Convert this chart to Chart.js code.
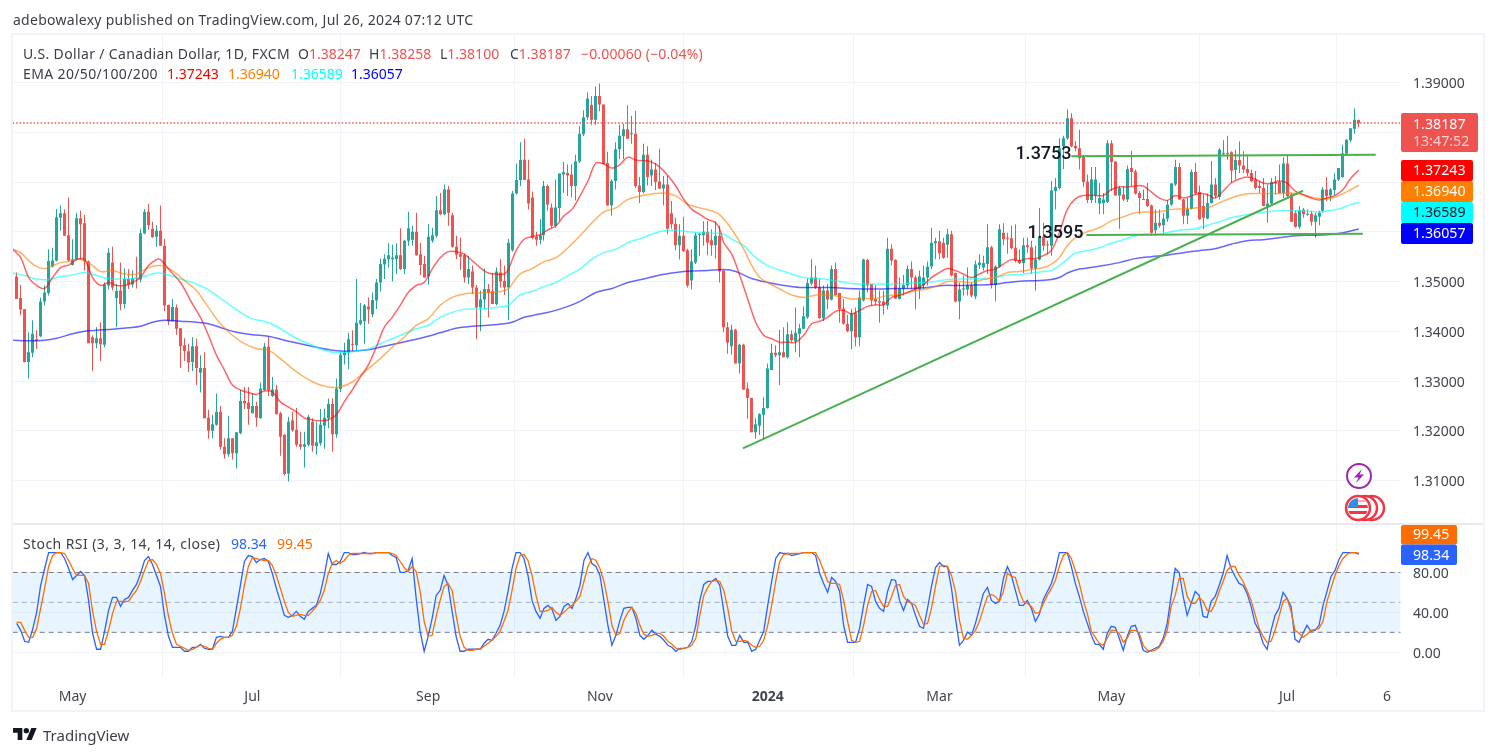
<!DOCTYPE html>
<html>
<head>
<meta charset="utf-8">
<title>USD/CAD daily</title>
<script src="https://cdn.jsdelivr.net/npm/chart.js@4"></script>
<style>
  html,body{margin:0;padding:0;background:#fff;width:1496px;height:756px;overflow:hidden;font-family:"Noto Sans",sans-serif;}
  canvas{position:absolute;left:0;top:0;}
  .frame{position:absolute;left:11px;top:33px;width:1470px;height:675px;border:2px solid #f0f3fa;}
  .t{position:absolute;white-space:nowrap;font-size:14px;line-height:18px;color:#3b3e47;}
  .wide{letter-spacing:.36px;}
  .logo{position:absolute;left:13px;top:726px;}
  .brand{position:absolute;left:43px;top:725px;font-size:15px;line-height:20px;color:#3b3e47;white-space:nowrap;}
</style>
</head>
<body>
<div class="frame"></div>
<canvas id="c" width="1496" height="756"></canvas>
<div class="t" style="left:13px;top:11px;letter-spacing:.27px">adebowalexy published on TradingView.com, Jul 26, 2024 07:12 UTC</div>
<div class="t wide" style="left:23px;top:45px">U.S. Dollar / Canadian Dollar, 1D, FXCM</div>
<div class="t" style="left:298px;top:45px">O<span style="color:#ef5350">1.38247</span></div>
<div class="t" style="left:369px;top:45px">H<span style="color:#ef5350">1.38258</span></div>
<div class="t" style="left:440px;top:45px">L<span style="color:#ef5350">1.38100</span></div>
<div class="t" style="left:510px;top:45px">C<span style="color:#ef5350">1.38187</span></div>
<div class="t" style="left:581px;top:45px;color:#ef5350;letter-spacing:.15px">−0.00060 (−0.04%)</div>
<div class="t wide" style="left:23px;top:65px">EMA 20/50/100/200</div>
<div class="t" style="left:167px;top:65px;color:#ff0000">1.37243</div>
<div class="t" style="left:228px;top:65px;color:#ff7f00">1.36940</div>
<div class="t" style="left:291px;top:65px;color:#00ffff">1.36589</div>
<div class="t" style="left:351px;top:65px;color:#0000ff">1.36057</div>
<div class="t" style="left:23px;top:535px;letter-spacing:.42px">Stoch RSI (3, 3, 14, 14, close)</div>
<div class="t" style="left:231px;top:535px;color:#2962ff">98.34</div>
<div class="t" style="left:277px;top:535px;color:#ff6d00">99.45</div>
<svg class="logo" width="24" height="16" viewBox="0 3 36 20"><path fill="#131722" d="M14 22H7V11H0V4h14v18zM28 22h-8l7.5-18h8L28 22z"/><circle fill="#131722" cx="20" cy="8" r="4"/></svg>
<div class="brand">TradingView</div>
<script>
// Daily USD/CAD candles, oldest first
const opens=[
1.3510,1.3467,1.3445,1.3338,1.3357,1.3384,1.3390,1.3460,1.3477,1.3530,
1.3542,1.3628,1.3637,1.3593,1.3533,1.3545,1.3627,1.3617,1.3540,1.3388,
1.3376,1.3386,1.3373,1.3492,1.3538,1.3467,1.3482,1.3455,1.3505,1.3494,
1.3506,1.3504,1.3597,1.3640,1.3606,1.3590,1.3602,1.3572,1.3453,1.3420,
1.3448,1.3406,1.3372,1.3360,1.3338,1.3370,1.3317,1.3326,1.3226,1.3200,
1.3212,1.3238,1.3168,1.3153,1.3185,1.3155,1.3195,1.3260,1.3257,1.3235,
1.3250,1.3225,1.3282,1.3369,1.3270,1.3283,1.3235,1.3192,1.3114,1.3221,
1.3202,1.3173,1.3168,1.3172,1.3218,1.3169,1.3175,1.3210,1.3225,1.3254,
1.3193,1.3284,1.3352,1.3357,1.3373,1.3372,1.3415,1.3420,1.3450,1.3434,
1.3462,1.3498,1.3534,1.3545,1.3545,1.3545,1.3553,1.3525,1.3582,1.3584,
1.3600,1.3555,1.3535,1.3510,1.3582,1.3592,1.3643,1.3635,1.3685,1.3633,
1.3570,1.3555,1.3553,1.3508,1.3520,1.3488,1.3448,1.3464,1.3485,1.3481,
1.3455,1.3518,1.3501,1.3488,1.3563,1.3677,1.3704,1.3745,1.3705,1.3669,
1.3590,1.3584,1.3593,1.3692,1.3649,1.3612,1.3648,1.3715,1.3718,1.3715,
1.3692,1.3741,1.3796,1.3830,1.3855,1.3825,1.3873,1.3856,1.3738,1.3653,
1.3702,1.3766,1.3792,1.3806,1.3796,1.3797,1.3693,1.3680,1.3755,1.3713,
1.3725,1.3701,1.3687,1.3695,1.3637,1.3616,1.3573,1.3592,1.3563,1.3502,
1.3538,1.3594,1.3593,1.3600,1.3583,1.3573,1.3592,1.3522,1.3408,1.3370,
1.3403,1.3335,1.3373,1.3285,1.3266,1.3197,1.3210,1.3232,1.3246,1.3322,
1.3357,1.3352,1.3358,1.3348,1.3394,1.3380,1.3395,1.3405,1.3428,1.3496,
1.3508,1.3488,1.3426,1.3482,1.3464,1.3525,1.3477,1.3446,1.3415,1.3400,
1.3436,1.3388,1.3462,1.3543,1.3495,1.3465,1.3461,1.3460,1.3452,1.3566,
1.3543,1.3465,1.3485,1.3492,1.3525,1.3508,1.3484,1.3492,1.3508,1.3530,
1.3577,1.3581,1.3578,1.3574,1.3595,1.3517,1.3460,1.3484,1.3484,1.3492,
1.3470,1.3533,1.3528,1.3535,1.3569,1.3493,1.3530,1.3598,1.3588,1.3587,
1.3568,1.3543,1.3537,1.3573,1.3569,1.3526,1.3544,1.3590,1.3575,1.3572,
1.3682,1.3688,1.3772,1.3788,1.3828,1.3773,1.3768,1.3752,1.3701,1.3664,
1.3673,1.3657,1.3658,1.3660,1.3778,1.3741,1.3673,1.3675,1.3665,1.3728,
1.3721,1.3678,1.3664,1.3666,1.3653,1.3603,1.3618,1.3613,1.3626,1.3655,
1.3695,1.3730,1.3665,1.3632,1.3646,1.3720,1.3680,1.3652,1.3626,1.3658,
1.3695,1.3670,1.3757,1.3759,1.3760,1.3724,1.3744,1.3733,1.3726,1.3718,
1.3705,1.3692,1.3688,1.3650,1.3657,1.3700,1.3700,1.3678,1.3737,1.3675,
1.3637,1.3610,1.3645,1.3634,1.3636,1.3620,1.3630,1.3642,1.3685,1.3673,
1.3684,1.3705,1.3710,1.3757,1.3784,1.3807,1.38247];
const highs=[
1.3518,1.3493,1.3445,1.3398,1.3422,1.3402,1.3468,1.3492,1.3565,1.3568,
1.3646,1.3653,1.3645,1.3669,1.3585,1.3638,1.3642,1.3634,1.3542,1.3392,
1.3408,1.3418,1.3498,1.3567,1.3570,1.3495,1.3538,1.3526,1.3525,1.3522,
1.3550,1.3606,1.3646,1.3656,1.3620,1.3613,1.3653,1.3586,1.3454,1.3465,
1.3454,1.3406,1.3386,1.3375,1.3388,1.3385,1.3352,1.3358,1.3242,1.3232,
1.3275,1.3250,1.3185,1.3230,1.3185,1.3197,1.3282,1.3288,1.3288,1.3275,
1.3258,1.3297,1.3377,1.3390,1.3308,1.3292,1.3238,1.3193,1.3228,1.3238,
1.3246,1.3198,1.3198,1.3232,1.3225,1.3218,1.3244,1.3245,1.3265,1.3266,
1.3305,1.3358,1.3377,1.3397,1.3402,1.3505,1.3457,1.3455,1.3468,1.3478,
1.3505,1.3546,1.3555,1.3577,1.3574,1.3577,1.3607,1.3584,1.3640,1.3612,
1.3638,1.3578,1.3552,1.3615,1.3608,1.3672,1.3678,1.3695,1.3692,1.3638,
1.3592,1.3588,1.3557,1.3552,1.3532,1.3493,1.3482,1.3526,1.3495,1.3517,
1.3528,1.3545,1.3532,1.3586,1.3682,1.3737,1.3780,1.3787,1.3745,1.3681,
1.3600,1.3625,1.3702,1.3695,1.3657,1.3705,1.3717,1.3740,1.3735,1.3736,
1.3755,1.3812,1.3844,1.3880,1.3873,1.3892,1.3898,1.3856,1.3761,1.3705,
1.3780,1.3815,1.3817,1.3855,1.3833,1.3843,1.3710,1.3777,1.3772,1.3745,
1.3738,1.3767,1.3712,1.3713,1.3662,1.3628,1.3615,1.3630,1.3566,1.3565,
1.3598,1.3598,1.3621,1.3622,1.3605,1.3621,1.3612,1.3522,1.3418,1.3413,
1.3405,1.3375,1.3375,1.3297,1.3266,1.3225,1.3235,1.3268,1.3335,1.3375,
1.3372,1.3403,1.3408,1.3418,1.3402,1.3448,1.3415,1.3450,1.3506,1.3545,
1.3532,1.3505,1.3492,1.3495,1.3532,1.3538,1.3477,1.3465,1.3433,1.3445,
1.3448,1.3482,1.3546,1.3546,1.3495,1.3493,1.3482,1.3482,1.3588,1.3575,
1.3545,1.3508,1.3513,1.3532,1.3540,1.3512,1.3522,1.3532,1.3540,1.3608,
1.3588,1.3602,1.3588,1.3606,1.3602,1.3518,1.3498,1.3512,1.3528,1.3498,
1.3542,1.3555,1.3552,1.3615,1.3572,1.3532,1.3615,1.3617,1.3598,1.3612,
1.3615,1.3565,1.3588,1.3588,1.3582,1.3572,1.3648,1.3618,1.3582,1.3702,
1.3708,1.3788,1.3793,1.3846,1.3838,1.3782,1.3805,1.3753,1.3715,1.3730,
1.3730,1.3698,1.3678,1.3784,1.3784,1.3741,1.3692,1.3692,1.3733,1.3763,
1.3725,1.3682,1.3685,1.3698,1.3655,1.3645,1.3645,1.3638,1.3664,1.3698,
1.3745,1.3738,1.3666,1.3668,1.3725,1.3738,1.3693,1.3675,1.3677,1.3742,
1.3708,1.3768,1.3784,1.3793,1.3762,1.3765,1.3782,1.3762,1.3755,1.3725,
1.3722,1.3702,1.3708,1.3695,1.3708,1.3712,1.3735,1.3750,1.3755,1.3678,
1.3642,1.3652,1.3648,1.3645,1.3642,1.3638,1.3642,1.3690,1.3710,1.3688,
1.3718,1.3728,1.3775,1.3786,1.3808,1.3848,1.38258];
const lows=[
1.3465,1.3432,1.3337,1.3305,1.3348,1.3365,1.3388,1.3452,1.3472,1.3528,
1.3540,1.3602,1.3592,1.3540,1.3532,1.3542,1.3545,1.3522,1.3376,1.3320,
1.3366,1.3340,1.3368,1.3484,1.3482,1.3408,1.3442,1.3446,1.3485,1.3488,
1.3486,1.3498,1.3595,1.3604,1.3588,1.3570,1.3572,1.3440,1.3412,1.3420,
1.3393,1.3326,1.3340,1.3318,1.3320,1.3292,1.3277,1.3225,1.3184,1.3185,
1.3210,1.3162,1.3144,1.3148,1.3142,1.3124,1.3193,1.3244,1.3212,1.3235,
1.3208,1.3224,1.3280,1.3270,1.3268,1.3233,1.3150,1.3110,1.3098,1.3198,
1.3168,1.3162,1.3126,1.3169,1.3158,1.3152,1.3170,1.3164,1.3205,1.3158,
1.3186,1.3278,1.3333,1.3324,1.3358,1.3362,1.3412,1.3375,1.3415,1.3428,
1.3445,1.3480,1.3505,1.3528,1.3500,1.3515,1.3523,1.3515,1.3572,1.3572,
1.3552,1.3513,1.3508,1.3494,1.3578,1.3588,1.3633,1.3633,1.3612,1.3568,
1.3545,1.3523,1.3498,1.3495,1.3475,1.3384,1.3400,1.3445,1.3428,1.3455,
1.3452,1.3488,1.3473,1.3422,1.3560,1.3675,1.3692,1.3704,1.3645,1.3585,
1.3572,1.3575,1.3582,1.3642,1.3608,1.3608,1.3622,1.3678,1.3672,1.3669,
1.3663,1.3738,1.3792,1.3825,1.3815,1.3815,1.3842,1.3735,1.3653,1.3632,
1.3685,1.3746,1.3746,1.3787,1.3777,1.3688,1.3658,1.3677,1.3693,1.3692,
1.3684,1.3686,1.3653,1.3595,1.3606,1.3563,1.3544,1.3560,1.3488,1.3484,
1.3535,1.3552,1.3572,1.3553,1.3552,1.3546,1.3498,1.3398,1.3355,1.3353,
1.3335,1.3315,1.3282,1.3224,1.3197,1.3184,1.3192,1.3184,1.3245,1.3322,
1.3348,1.3292,1.3348,1.3345,1.3378,1.3358,1.3348,1.3404,1.3425,1.3492,
1.3485,1.3425,1.3420,1.3445,1.3462,1.3472,1.3417,1.3413,1.3398,1.3364,
1.3370,1.3370,1.3460,1.3478,1.3452,1.3453,1.3417,1.3433,1.3444,1.3532,
1.3465,1.3464,1.3472,1.3485,1.3485,1.3444,1.3465,1.3485,1.3492,1.3525,
1.3545,1.3545,1.3546,1.3548,1.3510,1.3458,1.3424,1.3472,1.3472,1.3468,
1.3465,1.3525,1.3522,1.3515,1.3486,1.3460,1.3528,1.3573,1.3556,1.3565,
1.3538,1.3535,1.3517,1.3558,1.3515,1.3482,1.3542,1.3562,1.3555,1.3552,
1.3645,1.3685,1.3726,1.3785,1.3770,1.3762,1.3725,1.3690,1.3658,1.3658,
1.3658,1.3635,1.3635,1.3658,1.3682,1.3673,1.3606,1.3662,1.3660,1.3692,
1.3675,1.3635,1.3664,1.3650,1.3592,1.3592,1.3608,1.3598,1.3620,1.3652,
1.3692,1.3664,1.3615,1.3615,1.3645,1.3675,1.3624,1.3605,1.3625,1.3657,
1.3668,1.3665,1.3752,1.3745,1.3698,1.3705,1.3718,1.3718,1.3712,1.3700,
1.3685,1.3678,1.3652,1.3618,1.3652,1.3675,1.3677,1.3668,1.3668,1.3620,
1.3608,1.3606,1.3628,1.3632,1.3612,1.3588,1.3613,1.3638,1.3662,1.3662,
1.3673,1.3702,1.3708,1.3755,1.3780,1.3797,1.38100];
const closes=[
1.3465,1.3444,1.3338,1.3358,1.3395,1.3381,1.3460,1.3478,1.3541,1.3542,
1.3629,1.3637,1.3592,1.3542,1.3545,1.3627,1.3615,1.3540,1.3376,1.3376,
1.3386,1.3374,1.3493,1.3558,1.3488,1.3481,1.3455,1.3505,1.3494,1.3506,
1.3505,1.3597,1.3640,1.3613,1.3589,1.3602,1.3572,1.3452,1.3420,1.3449,
1.3405,1.3370,1.3360,1.3337,1.3370,1.3326,1.3326,1.3225,1.3200,1.3213,
1.3238,1.3168,1.3153,1.3185,1.3155,1.3197,1.3260,1.3255,1.3244,1.3250,
1.3226,1.3285,1.3369,1.3282,1.3283,1.3233,1.3188,1.3113,1.3218,1.3201,
1.3172,1.3168,1.3173,1.3228,1.3170,1.3177,1.3212,1.3226,1.3254,1.3193,
1.3285,1.3353,1.3358,1.3384,1.3372,1.3417,1.3422,1.3452,1.3444,1.3463,
1.3498,1.3535,1.3546,1.3553,1.3548,1.3553,1.3525,1.3582,1.3607,1.3600,
1.3553,1.3533,1.3508,1.3590,1.3593,1.3643,1.3635,1.3685,1.3638,1.3570,
1.3554,1.3550,1.3508,1.3525,1.3488,1.3448,1.3464,1.3485,1.3478,1.3455,
1.3520,1.3500,1.3488,1.3578,1.3677,1.3704,1.3745,1.3704,1.3657,1.3588,
1.3584,1.3593,1.3692,1.3655,1.3612,1.3649,1.3717,1.3720,1.3713,1.3692,
1.3741,1.3797,1.3830,1.3868,1.3825,1.3873,1.3856,1.3736,1.3653,1.3702,
1.3766,1.3793,1.3806,1.3787,1.3798,1.3692,1.3680,1.3755,1.3710,1.3725,
1.3700,1.3687,1.3695,1.3606,1.3615,1.3573,1.3592,1.3561,1.3492,1.3540,
1.3593,1.3596,1.3600,1.3578,1.3573,1.3592,1.3520,1.3408,1.3377,1.3403,
1.3335,1.3373,1.3283,1.3266,1.3197,1.3213,1.3233,1.3246,1.3325,1.3357,
1.3352,1.3358,1.3348,1.3394,1.3382,1.3397,1.3406,1.3430,1.3497,1.3508,
1.3488,1.3426,1.3482,1.3464,1.3525,1.3473,1.3445,1.3415,1.3400,1.3436,
1.3388,1.3468,1.3544,1.3492,1.3462,1.3460,1.3458,1.3453,1.3566,1.3542,
1.3466,1.3486,1.3493,1.3525,1.3508,1.3484,1.3510,1.3508,1.3530,1.3578,
1.3581,1.3557,1.3548,1.3595,1.3512,1.3460,1.3484,1.3486,1.3492,1.3472,
1.3534,1.3538,1.3537,1.3569,1.3493,1.3530,1.3605,1.3585,1.3586,1.3567,
1.3542,1.3537,1.3573,1.3569,1.3526,1.3544,1.3590,1.3572,1.3573,1.3683,
1.3690,1.3768,1.3788,1.3828,1.3772,1.3768,1.3748,1.3700,1.3664,1.3705,
1.3705,1.3668,1.3665,1.3778,1.3740,1.3673,1.3688,1.3665,1.3726,1.3720,
1.3677,1.3668,1.3666,1.3652,1.3598,1.3618,1.3612,1.3626,1.3655,1.3697,
1.3730,1.3665,1.3632,1.3646,1.3720,1.3677,1.3625,1.3628,1.3658,1.3695,
1.3672,1.3765,1.3759,1.3757,1.3723,1.3744,1.3733,1.3725,1.3718,1.3702,
1.3688,1.3688,1.3652,1.3657,1.3700,1.3697,1.3678,1.3737,1.3672,1.3620,
1.3610,1.3643,1.3635,1.3636,1.3620,1.3633,1.3638,1.3685,1.3672,1.3685,
1.3705,1.3728,1.3758,1.3785,1.3808,1.3825,1.38187];

// Moving averages, read at the candle indexes listed beside each one
const ema20At=[-1,1,3,5,7,9,11,13,15,17,19,21,23,25,27,29,31,33,35,36,38,41,44,46,48,50,52,54,56,58,60,62,64,66,68,70,72,74,76,78,80,82,84,86,88,90,92,94,96,98,100,102,104,106,108,110,112,114,116,118,120,122,123,125,127,129,131,133,135,137,139,141,143,145,147,149,151,153,155,157,159,161,163,165,167,169,171,173,175,176,177,179,181,183,185,187,189,191,193,195,197,199,201,203,205,207,209,211,213,215,217,219,221,223,225,227,229,231,233,235,237,239,241,243,245,247,249,251,253,255,257,259,261,263,265,267,270,272,274,276,278,280,282,284,286,288,290,292,294,296,298,300,302,304,306,308,310,312,314,316,318,320,322,324,326,328,330,332,334,336];
const ema20=[1.3565,1.3548,1.3508,1.3492,1.3486,1.3508,1.3528,1.3533,1.3544,1.3544,1.3508,1.3492,1.3498,1.3492,1.3492,1.3498,1.3508,1.3532,1.3544,1.3544,1.3525,1.3498,1.3455,1.3428,1.3392,1.3352,1.3322,1.3292,1.3282,1.3277,1.3273,1.3280,1.3278,1.3258,1.3248,1.3238,1.3226,1.3222,1.3220,1.3222,1.3232,1.3258,1.3282,1.3308,1.3332,1.3368,1.3408,1.3428,1.3452,1.3478,1.3492,1.3498,1.3525,1.3548,1.3560,1.3560,1.3555,1.3542,1.3528,1.3517,1.3515,1.3515,1.3523,1.3562,1.3585,1.3590,1.3594,1.3604,1.3612,1.3632,1.3645,1.3672,1.3702,1.3738,1.3736,1.3728,1.3735,1.3750,1.3744,1.3743,1.3740,1.3730,1.3713,1.3692,1.3665,1.3645,1.3635,1.3625,1.3618,1.3605,1.3578,1.3555,1.3512,1.3465,1.3418,1.3392,1.3385,1.3378,1.3378,1.3378,1.3392,1.3415,1.3420,1.3428,1.3440,1.3442,1.3435,1.3442,1.3450,1.3453,1.3453,1.3468,1.3472,1.3478,1.3485,1.3493,1.3508,1.3518,1.3526,1.3522,1.3515,1.3508,1.3515,1.3522,1.3525,1.3535,1.3544,1.3542,1.3546,1.3546,1.3552,1.3562,1.3598,1.3645,1.3666,1.3673,1.3673,1.3673,1.3685,1.3690,1.3690,1.3692,1.3692,1.3680,1.3668,1.3663,1.3673,1.3668,1.3672,1.3677,1.3675,1.3668,1.3682,1.3698,1.3706,1.3710,1.3706,1.3698,1.3697,1.3702,1.3698,1.3682,1.3675,1.3668,1.3664,1.3668,1.3673,1.3685,1.3708,1.37243];
const ema50At=[-1,1,3,5,7,9,11,13,15,17,19,21,24,27,30,33,36,39,42,45,48,51,54,57,60,63,66,69,72,75,78,81,84,87,91,94,97,100,103,106,109,112,115,118,121,123,126,129,132,135,138,141,144,147,150,153,156,159,162,165,168,171,174,176,179,182,184,186,188,191,194,197,200,203,206,209,212,215,218,221,224,227,230,233,236,239,242,245,248,251,254,257,259,261,263,265,268,271,274,277,280,283,286,289,292,295,298,301,304,307,310,313,316,319,322,325,328,331,334,336];
const ema50=[1.3565,1.3558,1.3542,1.3530,1.3526,1.3532,1.3538,1.3540,1.3545,1.3542,1.3532,1.3520,1.3522,1.3515,1.3515,1.3528,1.3532,1.3522,1.3502,1.3482,1.3448,1.3415,1.3392,1.3375,1.3365,1.3362,1.3345,1.3325,1.3308,1.3295,1.3288,1.3288,1.3298,1.3318,1.3345,1.3368,1.3388,1.3412,1.3425,1.3452,1.3468,1.3475,1.3477,1.3478,1.3480,1.3485,1.3515,1.3526,1.3540,1.3548,1.3568,1.3592,1.3618,1.3640,1.3648,1.3665,1.3672,1.3676,1.3678,1.3672,1.3655,1.3648,1.3642,1.3634,1.3605,1.3565,1.3532,1.3508,1.3498,1.3485,1.3473,1.3468,1.3473,1.3473,1.3470,1.3465,1.3466,1.3466,1.3472,1.3474,1.3480,1.3484,1.3490,1.3500,1.3500,1.3498,1.3504,1.3508,1.3518,1.3520,1.3524,1.3528,1.3535,1.3548,1.3572,1.3588,1.3600,1.3608,1.3622,1.3630,1.3638,1.3640,1.3640,1.3645,1.3646,1.3648,1.3648,1.3658,1.3668,1.3675,1.3677,1.3677,1.3677,1.3678,1.3674,1.3668,1.3666,1.3673,1.3685,1.36940];
const ema100At=[-1,2,5,8,11,14,17,20,23,27,31,35,38,41,44,47,50,53,56,59,62,65,68,71,74,77,80,83,86,88,91,94,97,100,103,106,109,112,115,118,121,123,126,129,132,135,138,141,144,147,150,153,156,159,162,165,168,171,174,177,179,182,185,188,191,194,197,200,203,206,209,212,215,218,221,224,227,230,233,236,239,242,245,248,251,254,257,259,261,263,265,268,271,274,277,280,283,286,289,292,295,298,301,304,307,310,313,316,319,322,325,328,331,334,336];
const ema100=[1.3517,1.3512,1.3505,1.3504,1.3510,1.3513,1.3518,1.3512,1.3506,1.3505,1.3508,1.3517,1.3513,1.3505,1.3498,1.3488,1.3472,1.3455,1.3438,1.3425,1.3420,1.3410,1.3395,1.3382,1.3372,1.3362,1.3357,1.3358,1.3362,1.3364,1.3375,1.3385,1.3395,1.3405,1.3412,1.3428,1.3438,1.3444,1.3445,1.3446,1.3449,1.3452,1.3473,1.3480,1.3490,1.3498,1.3512,1.3525,1.3545,1.3558,1.3565,1.3578,1.3586,1.3595,1.3602,1.3603,1.3600,1.3598,1.3597,1.3595,1.3585,1.3572,1.3548,1.3532,1.3523,1.3515,1.3508,1.3506,1.3504,1.3500,1.3496,1.3495,1.3495,1.3495,1.3495,1.3497,1.3498,1.3500,1.3504,1.3505,1.3505,1.3506,1.3508,1.3513,1.3514,1.3517,1.3520,1.3522,1.3532,1.3545,1.3557,1.3562,1.3568,1.3577,1.3584,1.3592,1.3595,1.3595,1.3600,1.3604,1.3606,1.3613,1.3620,1.3628,1.3633,1.3637,1.3640,1.3642,1.3642,1.3642,1.3640,1.3642,1.3646,1.3655,1.36589];
const ema200At=[-1,3,7,10,14,17,20,24,28,31,34,37,41,45,48,52,55,59,63,67,71,75,79,83,88,92,96,100,103,106,110,114,118,122,124,127,130,134,138,141,145,149,153,157,161,165,169,173,177,180,184,188,192,196,200,204,208,212,216,220,224,228,232,236,240,244,248,252,256,259,261,263,266,268,272,276,280,284,288,292,296,300,304,308,312,316,320,324,328,332,336];
const ema200=[1.3382,1.3381,1.3382,1.3386,1.3395,1.3400,1.3402,1.3404,1.3407,1.3410,1.3418,1.3422,1.3420,1.3418,1.3415,1.3405,1.3398,1.3393,1.3390,1.3382,1.3375,1.3368,1.3362,1.3360,1.3363,1.3370,1.3377,1.3384,1.3390,1.3397,1.3406,1.3410,1.3412,1.3415,1.3418,1.3428,1.3433,1.3440,1.3450,1.3460,1.3478,1.3486,1.3498,1.3505,1.3513,1.3518,1.3521,1.3522,1.3524,1.3520,1.3506,1.3498,1.3492,1.3488,1.3488,1.3488,1.3486,1.3485,1.3485,1.3486,1.3486,1.3488,1.3492,1.3492,1.3493,1.3494,1.3498,1.3501,1.3502,1.3504,1.3508,1.3517,1.3525,1.3527,1.3532,1.3538,1.3546,1.3550,1.3553,1.3558,1.3562,1.3566,1.3575,1.3582,1.3584,1.3588,1.3592,1.3593,1.3594,1.3598,1.36057];

// Stochastic RSI, one value per candle
const stochK=[
29,22,11,10,23,40,67,84,100,100,100,100,94,84,73,77,81,77,52,19,
3,3,21,42,55,55,46,53,55,62,68,79,92,96,88,77,66,37,16,5,
5,5,1,1,5,5,8,4,3,3,15,16,15,15,21,44,67,91,97,96,
90,93,94,91,79,64,51,37,35,37,41,36,33,41,44,47,59,77,99,88,
88,91,100,100,98,98,99,100,99,99,100,100,100,100,97,95,80,80,82,94,
54,21,1,16,34,57,62,77,67,41,16,1,1,3,3,3,3,9,13,12,
19,27,41,61,84,100,100,94,77,52,41,34,44,47,43,32,36,46,49,44,
54,67,92,100,89,86,77,52,27,7,17,32,44,45,45,34,17,13,17,22,
18,16,12,7,5,1,4,4,5,11,27,52,68,71,71,74,67,41,16,7,
7,17,10,10,1,3,12,21,47,71,94,100,99,99,97,98,99,100,100,100,
97,79,69,60,75,71,61,27,10,10,10,24,47,68,66,51,44,41,61,73,
72,52,42,53,49,37,26,24,44,66,85,90,86,86,64,34,7,12,20,17,
29,44,59,65,52,49,51,74,86,77,62,47,47,52,44,31,38,53,61,69,
82,100,100,100,86,69,56,41,29,17,8,8,3,19,26,25,14,2,16,26,
27,16,2,0,2,4,6,14,29,57,84,80,56,37,49,61,57,36,35,51,
56,67,79,97,84,76,69,67,59,46,29,22,9,3,22,37,44,60,54,46,
13,10,19,27,21,22,27,47,61,76,82,93,100,100,100,100,98.34];
const stochD=[
30,30,22,15,15,24,44,64,86,97,100,100,99,92,84,77,77,77,69,41,
21,8,8,22,39,51,51,51,51,57,62,71,82,92,93,88,79,59,36,19,
8,6,4,2,3,5,7,6,4,3,9,13,15,15,17,26,44,67,86,95,
94,93,92,92,87,77,64,51,40,36,37,38,37,37,41,46,52,62,79,89,
92,89,92,97,99,99,99,99,99,99,100,100,100,100,99,97,91,85,81,86,
81,61,31,16,17,36,52,66,69,62,37,16,5,2,2,3,3,6,9,12,
16,21,31,42,62,84,97,98,92,77,57,41,41,42,45,40,37,40,44,47,
51,56,71,86,94,92,84,71,51,27,17,19,32,40,45,39,27,18,16,17,
19,19,16,11,8,4,3,4,5,7,14,37,57,65,71,72,71,62,44,21,
11,11,12,11,7,5,6,12,27,47,71,91,98,99,99,99,99,100,100,100,
100,92,82,71,69,69,68,52,31,12,10,11,27,47,61,62,53,46,46,56,
67,68,56,51,49,47,37,28,29,44,66,86,87,86,77,61,32,14,13,17,
22,31,44,56,58,56,51,61,79,76,75,61,51,49,46,39,40,49,57,64,
72,86,97,100,94,82,69,52,39,21,15,9,7,14,22,22,19,10,14,22,
22,19,7,2,1,2,5,11,22,46,57,74,74,56,49,49,55,51,42,41,
49,61,71,82,86,86,77,71,62,52,38,24,16,10,11,22,36,51,54,41,
22,19,15,18,22,23,24,31,51,64,77,87,94,98,100,100,99.45];

// Hand-drawn trend lines and their labels
const trendAt=[181.8,322];
const trendRise=[1.31647,1.36825];
const resistAt=[264,340.2];
const resist=[1.37517,1.37549];
const supportAt=[267.8,337];
const support=[1.35935,1.3596];
const resistLabel='1.3753';
const supportLabel='1.3595';

// Axis ticks
const priceTicks=[1.31,1.32,1.33,1.34,1.35,1.36,1.37,1.38,1.39];
const stochTicks=[0,40,80];
const timeTickAt=[14,59,103,146,188,231,274,318,343];
const timeTicks=['May','Jul','Sep','Nov','2024','Mar','May','Jul','6'];
const lastPrice=1.38187;
const timer='13:47:52';

const UP='#26a69a',DOWN='#ef5350',GRID='#f0f3fa',TEXT='#42454f';
const FONT='"Noto Sans",sans-serif';
const index=opens.map((_,i)=>i);
const pts=(xs,ys)=>xs.map((x,i)=>({x,y:ys[i]}));
const candleColor=index.map(i=>closes[i]>=opens[i]?UP:DOWN);
const ends=[-1,347];

const emaLine=(label,xs,ys,color,order)=>({type:'line',label,data:pts(xs,ys),yAxisID:'price',borderColor:color,borderWidth:1.5,pointRadius:0,tension:.35,order});
const guide=(y,color,order,extra)=>Object.assign({type:'line',data:pts(ends,[y,y]),yAxisID:'stoch',borderColor:color,borderWidth:1,borderDash:[5,4],pointRadius:0,order},extra||{});
const trend=(xs,ys,order)=>({type:'line',data:pts(xs,ys),yAxisID:'price',borderColor:'#4caf50',borderWidth:2,pointRadius:0,order});

// Candles sit on whole pixel columns so wicks stay one pixel wide
const snapCandles={
  id:'snapCandles',
  afterDatasetsUpdate(chart){
    chart.getSortedVisibleDatasetMetas().forEach(m=>{
      if(m.type==='bar') m.data.forEach(el=>{el.x=Math.floor(el.x)+.5;});
    });
  }
};

// Value boxes on the price axis and the small chart badges
const overlay={
  id:'overlay',
  afterDraw(chart){
    const c=chart.ctx, P=chart.scales.price;
    c.save();
    c.strokeStyle='#e0e3eb'; c.lineWidth=1.5;
    c.beginPath(); c.moveTo(13,P.bottom); c.lineTo(1483,P.bottom); c.stroke();

    c.textBaseline='middle'; c.textAlign='left'; c.font='500 18px Roboto,'+FONT; c.fillStyle='#131722';
    c.fillText(resistLabel,chart.scales.x.getPixelForValue(250),P.getPixelForValue(resist[0])-2);
    c.fillText(supportLabel,chart.scales.x.getPixelForValue(253),P.getPixelForValue(support[0])-1);

    const box=(x,y,w,h,bg)=>{c.fillStyle=bg;c.beginPath();c.roundRect(x,y,w,h,2);c.fill();};
    const label=(s,x,y,col)=>{c.fillStyle=col;c.font='14.2px '+FONT;c.fillText(s,x,y);};
    box(1401,113,77,39,DOWN);
    label(lastPrice.toFixed(5),1413,124.5,'#ffffff');
    label(timer,1413,142,'#fbd0cf');
    [['1.37243','#ff0000','#fff',160],['1.36940','#ff7f00','#fff',181],['1.36589','#00ffff','#131722',202],['1.36057','#0000ff','#fff',223]].forEach(r=>{
      box(1401,r[3],72,21,r[1]); label(r[0],1413,r[3]+11,r[2]);
    });
    box(1401,525,56,19.5,'#ff6d00'); label('99.45',1413,535,'#fff');
    box(1401,544.5,56,20.5,'#2962ff'); label('98.34',1413,555.5,'#fff');

    // lightning badge
    c.lineWidth=2; c.strokeStyle='#9c27b0';
    c.beginPath(); c.arc(1359,476,12,0,Math.PI*2); c.stroke();
    c.fillStyle='#9c27b0'; c.beginPath();
    c.moveTo(1362,469); c.lineTo(1354,477.5); c.lineTo(1358.5,477.5); c.lineTo(1356,483); c.lineTo(1364,474.5); c.lineTo(1359.5,474.5); c.closePath(); c.fill();

    // stacked flag badges
    [1372,1365,1358].forEach(x=>{
      c.fillStyle='#fff'; c.strokeStyle='#f23645'; c.lineWidth=2.5;
      c.beginPath(); c.arc(x,508,12,0,Math.PI*2); c.fill(); c.stroke();
    });
    c.save(); c.beginPath(); c.arc(1358,508,10,0,Math.PI*2); c.clip();
    c.fillStyle='#f23645'; c.fillRect(1346,505,24,3); c.fillRect(1346,511,24,3);
    c.fillStyle='#f7a8ae'; c.fillRect(1346,500,24,2);
    c.fillStyle='#2e8fe8'; c.fillRect(1347,497,11,10);
    c.restore();
    c.restore();
  }
};

new Chart(document.getElementById('c'),{
  data:{datasets:[
    trend(trendAt,trendRise,0),
    trend(resistAt,resist,0),
    trend(supportAt,support,0),
    emaLine('EMA 20',ema20At,ema20,'rgba(255,0,0,.6)',1),
    emaLine('EMA 50',ema50At,ema50,'rgba(255,127,0,.6)',2),
    emaLine('EMA 100',ema100At,ema100,'rgba(0,255,255,.6)',3),
    emaLine('EMA 200',ema200At,ema200,'rgba(0,0,255,.6)',4),
    {type:'line',data:pts(ends,[lastPrice,lastPrice]),yAxisID:'price',borderColor:DOWN,borderWidth:1.5,borderDash:[1.5,2],pointRadius:0,order:5},
    {type:'bar',label:'Body',data:index.map(i=>({x:i,y:[opens[i],closes[i]]})),yAxisID:'price',backgroundColor:candleColor,barThickness:3,minBarLength:1,inflateAmount:0,grouped:false,order:6},
    {type:'bar',label:'Wick',data:index.map(i=>({x:i,y:[lows[i],highs[i]]})),yAxisID:'price',backgroundColor:candleColor,barThickness:1,inflateAmount:0,grouped:false,order:7},
    {type:'line',label:'%D',data:pts(index,stochD),yAxisID:'stoch',borderColor:'#ff6d00',borderWidth:1.3,pointRadius:0,order:1},
    {type:'line',label:'%K',data:pts(index,stochK),yAxisID:'stoch',borderColor:'#2962ff',borderWidth:1.3,pointRadius:0,order:2},
    guide(80,'#787b86',3,{fill:{value:20},backgroundColor:'rgba(33,150,243,.1)'}),
    guide(50,'rgba(120,123,134,.55)',3),
    guide(20,'#787b86',3)
  ]},
  options:{
    responsive:false,animation:false,events:[],
    layout:{padding:{left:13,right:13,top:35,bottom:45}},
    plugins:{legend:{display:false},tooltip:{enabled:false},title:{display:false}},
    scales:{
      x:{
        type:'linear',position:'bottom',offset:false,min:-0.92,max:346.4,
        afterBuildTicks:s=>{s.ticks=timeTickAt.map(value=>({value}));},
        afterFit:s=>{s.height=34;},
        border:{display:false},
        grid:{color:GRID,drawTicks:false},
        ticks:{autoSkip:false,maxRotation:0,padding:12,color:TEXT,
          font:ctx=>({family:FONT,size:14,weight:ctx.index===4?'bold':'normal'}),
          callback:(v,i)=>timeTicks[i]}
      },
      price:{
        type:'linear',position:'right',stack:'panes',stackWeight:489,bounds:'data',min:1.30126,max:1.39955,
        afterBuildTicks:s=>{s.ticks=priceTicks.map(value=>({value}));},
        afterFit:s=>{s.width=82.5;},
        border:{display:false},
        grid:{color:GRID,drawTicks:false},
        ticks:{padding:12.5,labelOffset:1.5,color:TEXT,font:{family:FONT,size:14},callback:v=>v.toFixed(5)}
      },
      stoch:{
        type:'linear',position:'right',stack:'panes',stackWeight:153,bounds:'data',min:-24.8,max:128.6,
        afterBuildTicks:s=>{s.ticks=stochTicks.map(value=>({value}));},
        afterFit:s=>{s.width=82.5;},
        border:{display:false},
        grid:{color:GRID,drawTicks:false},
        ticks:{padding:12.5,labelOffset:1.5,color:TEXT,font:{family:FONT,size:14},callback:v=>v.toFixed(2)}
      }
    }
  },
  plugins:[snapCandles,overlay]
});
</script>
</body>
</html>
